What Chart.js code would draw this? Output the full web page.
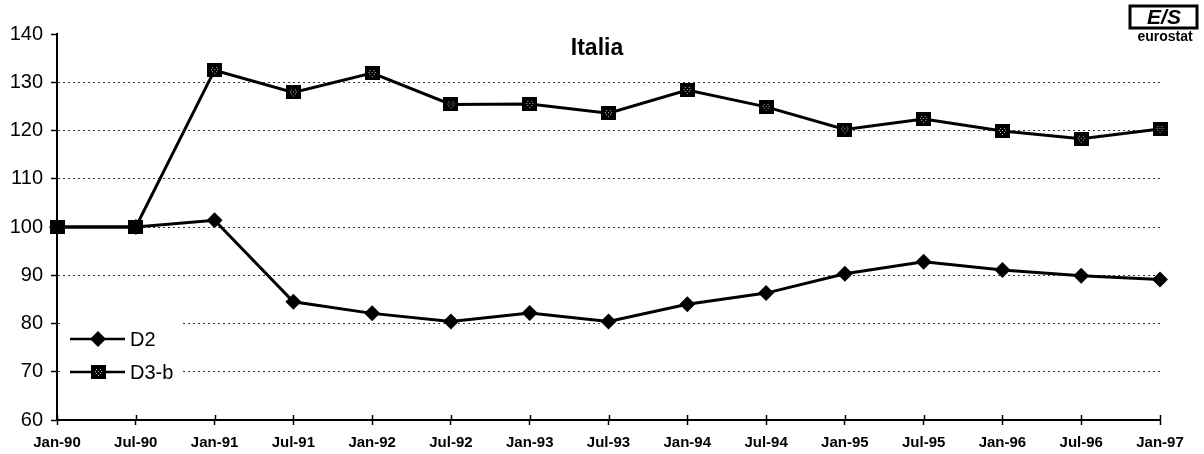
<!DOCTYPE html>
<html>
<head>
<meta charset="utf-8">
<script src="https://cdn.jsdelivr.net/npm/chart.js@4/dist/chart.umd.min.js"></script>
<style>
  html, body { margin: 0; padding: 0; background: #fff; }
  #wrap { width: 1204px; height: 454px; }
</style>
</head>
<body>
<div id="wrap"><canvas id="chartItalia"></canvas></div>
<script>
const labels = ["Jan-90", "Jul-90", "Jan-91", "Jul-91", "Jan-92", "Jul-92", "Jan-93", "Jul-93",
  "Jan-94", "Jul-94", "Jan-95", "Jul-95", "Jan-96", "Jul-96", "Jan-97"];
const d2 = [100, 100, 101.4, 84.5, 82.1, 80.4, 82.2, 80.4, 84.0, 86.3, 90.3, 92.8, 91.1, 89.9, 89.1];
const d3b = [100, 100, 132.5, 127.9, 131.9, 125.4, 125.5, 123.6, 128.4, 124.9, 120.2, 122.4, 119.9, 118.3, 120.3];
const yTicks = [60, 70, 80, 90, 100, 110, 120, 130, 140];

const font = "'Liberation Sans', Arial, sans-serif";

// square marker: black with light dots in the middle
const sq = document.createElement("canvas");
sq.width = 15;
sq.height = 14;
const sctx = sq.getContext("2d");
sctx.fillStyle = "#000";
sctx.fillRect(0, 0, 15, 14);
sctx.fillStyle = "#bbb";
[[5, 4], [9, 4], [7, 6], [5, 8], [9, 8], [7, 10], [4, 6], [10, 6]].forEach(([x, y]) => sctx.fillRect(x, y, 1, 1));

function diamond(ctx, x, y) {
  ctx.save();
  ctx.fillStyle = "#000";
  ctx.beginPath();
  ctx.moveTo(x - 8, y);
  ctx.lineTo(x, y - 8);
  ctx.lineTo(x + 8, y);
  ctx.lineTo(x, y + 8);
  ctx.closePath();
  ctx.fill();
  ctx.restore();
}

const extras = {
  id: "extras",
  afterDatasetsDraw(chart) {
    const ctx = chart.ctx;
    const xs = chart.scales.x;
    ctx.save();
    // small tick marks above the x axis
    ctx.strokeStyle = "#000";
    ctx.lineWidth = 1.5;
    labels.forEach((l, i) => {
      const px = Math.round(xs.getPixelForTick(i)) + 0.5;
      ctx.beginPath();
      ctx.moveTo(px, xs.top - 5);
      ctx.lineTo(px, xs.top);
      ctx.stroke();
    });

    // title
    ctx.fillStyle = "#000";
    ctx.font = "bold 23px " + font;
    ctx.textAlign = "center";
    ctx.textBaseline = "middle";
    ctx.fillText("Italia", 597, 49);

    // legend box
    ctx.fillStyle = "#fff";
    ctx.fillRect(60, 316, 122, 70);
    const items = [["D2", "diamond", 339], ["D3-b", "square", 372]];
    items.forEach(([txt, type, y]) => {
      ctx.strokeStyle = "#000";
      ctx.lineWidth = 2.5;
      ctx.beginPath();
      ctx.moveTo(70, y);
      ctx.lineTo(125, y);
      ctx.stroke();
      if (type === "diamond") diamond(ctx, 98, y);
      else ctx.drawImage(sq, 91, y - 7);
      ctx.fillStyle = "#000";
      ctx.font = "20px " + font;
      ctx.textAlign = "left";
      ctx.textBaseline = "middle";
      ctx.fillText(txt, 130, y + 1);
    });

    // eurostat logo
    ctx.strokeStyle = "#000";
    ctx.lineWidth = 3;
    ctx.strokeRect(1130, 6, 67, 22);
    ctx.fillStyle = "#000";
    ctx.font = "italic bold 21px " + font;
    ctx.textAlign = "center";
    ctx.fillText("E/S", 1164, 18);
    ctx.font = "bold 14px " + font;
    ctx.fillText("eurostat", 1165, 37);
    ctx.restore();
  }
};

new Chart(document.getElementById("chartItalia"), {
  type: "line",
  data: {
    labels: labels,
    datasets: [
      {
        label: "D2",
        data: d2,
        borderColor: "#000",
        borderWidth: 3,
        pointStyle: "rectRot",
        pointRadius: 8,
        pointBackgroundColor: "#000",
        pointBorderColor: "#000",
        pointBorderWidth: 0,
        tension: 0,
      },
      {
        label: "D3-b",
        data: d3b,
        borderColor: "#000",
        borderWidth: 3,
        pointStyle: sq,
        pointRadius: 8,
        tension: 0,
      },
    ],
  },
  options: {
    responsive: true,
    maintainAspectRatio: false,
    animation: false,
    layout: { padding: { top: 34, right: 44, left: 0, bottom: 0 } },
    plugins: {
      legend: { display: false },
      title: { display: false },
      tooltip: { enabled: false },
    },
    scales: {
      x: {
        offset: false,
        afterFit(scale) { scale.height = 34; },
        grid: {
          drawOnChartArea: false,
          drawTicks: true,
          tickLength: 5,
          tickColor: "#000",
          tickWidth: 1.5,
        },
        border: { color: "#000", width: 2 },
        ticks: {
          color: "#000",
          font: { family: font, size: 15, weight: "bold" },
          maxRotation: 0,
          autoSkip: false,
          padding: 9,
        },
      },
      y: {
        min: 60,
        max: 140,
        afterFit(scale) { scale.width = 57; },
        afterBuildTicks(scale) { scale.ticks = yTicks.map(v => ({ value: v })); },
        grid: {
          color: (c) => (c.tick && (c.tick.value === 140 || c.tick.value === 60)) ? "rgba(0,0,0,0)" : "#333",
          lineWidth: 1,
          tickColor: "#000",
          tickLength: 6,
          tickWidth: 1.5,
          tickBorderDash: [],
        },
        border: { color: "#000", width: 2, dash: [2, 3] },
        ticks: {
          color: "#000",
          font: { family: font, size: 20 },
          padding: 8,
        },
      },
    },
  },
  plugins: [extras],
});
</script>
</body>
</html>
